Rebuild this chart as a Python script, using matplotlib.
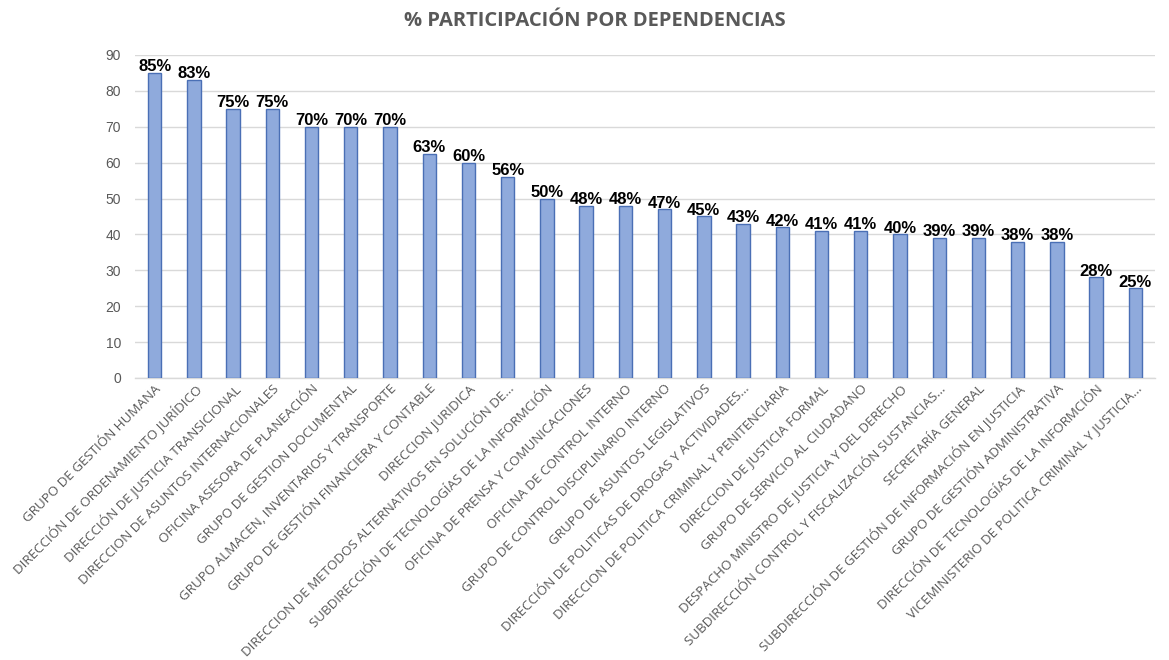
import matplotlib
matplotlib.use("Agg")
import matplotlib.pyplot as plt

categories = [
    "GRUPO DE GESTIÓN HUMANA",
    "DIRECCIÓN DE ORDENAMIENTO JURÍDICO",
    "DIRECCIÓN DE JUSTICIA TRANSICIONAL",
    "DIRECCION DE ASUNTOS INTERNACIONALES",
    "OFICINA ASESORA DE PLANEACIÓN",
    "GRUPO DE GESTION DOCUMENTAL",
    "GRUPO ALMACEN, INVENTARIOS Y TRANSPORTE",
    "GRUPO DE GESTIÓN FINANCIERA Y CONTABLE",
    "DIRECCION JURIDICA",
    "DIRECCION DE METODOS ALTERNATIVOS EN SOLUCIÓN DE...",
    "SUBDIRECCIÓN DE TECNOLOGÍAS DE LA INFORMCIÓN",
    "OFICINA DE PRENSA Y COMUNICACIONES",
    "OFICINA DE CONTROL INTERNO",
    "GRUPO DE CONTROL DISCIPLINARIO INTERNO",
    "GRUPO DE ASUNTOS LEGISLATIVOS",
    "DIRECCIÓN DE POLITICAS DE DROGAS Y ACTIVIDADES...",
    "DIRECCION DE POLITICA CRIMINAL Y PENITENCIARIA",
    "DIRECCION DE JUSTICIA FORMAL",
    "GRUPO DE SERVICIO AL CIUDADANO",
    "DESPACHO MINISTRO DE JUSTICIA Y DEL DERECHO",
    "SUBDIRECCIÓN CONTROL Y FISCALIZACIÓN SUSTANCIAS...",
    "SECRETARÍA GENERAL",
    "SUBDIRECCIÓN DE GESTIÓN DE INFORMACIÓN EN JUSTICIA",
    "GRUPO DE GESTIÓN ADMINISTRATIVA",
    "DIRECCIÓN DE TECNOLOGÍAS DE LA INFORMCIÓN",
    "VICEMINISTERIO DE POLITICA CRIMINAL Y JUSTICIA...",
]
values = [85, 83, 75, 75, 70, 70, 70, 62.5, 60, 56, 50, 48, 48, 47, 45, 43, 42, 41, 41, 40, 39, 39, 38, 38, 28, 25]
value_labels = ["85%", "83%", "75%", "75%", "70%", "70%", "70%", "63%", "60%", "56%", "50%", "48%", "48%",
                "47%", "45%", "43%", "42%", "41%", "41%", "40%", "39%", "39%", "38%", "38%", "28%", "25%"]
yticks = [0, 10, 20, 30, 40, 50, 60, 70, 80, 90]

fig = plt.figure(figsize=(11.69, 6.6), dpi=100)
ax = fig.add_axes([0.1155, 0.4273, 0.8725, 0.4894])

x = list(range(len(categories)))
ax.bar(x, values, width=0.34, color="#8FAADC", edgecolor="#4A6FB5", linewidth=1.0, zorder=3)

for xi, v, lab in zip(x, values, value_labels):
    ax.annotate(lab, (xi, v), xytext=(0, -1), textcoords="offset points",
                ha="center", va="bottom", fontsize=12, fontweight="bold",
                family="Liberation Sans", color="black", zorder=4)

ax.set_xlim(-0.5, len(categories) - 0.5)
ax.set_ylim(0, 90)
ax.set_yticks(yticks)
ax.tick_params(axis="y", length=0, labelsize=10, labelcolor="#595959", pad=10)
ax.tick_params(axis="x", length=0, pad=3)
ax.set_xticks(x)
ax.set_xticklabels(categories, rotation=45, ha="right", rotation_mode="anchor",
                   fontsize=9.6, color="#595959", family="Open Sans")
for lab in ax.get_yticklabels():
    lab.set_family("Liberation Sans")

ax.grid(axis="y", color="#D9D9D9", linewidth=1.0, zorder=0)
for s in ["top", "right", "left"]:
    ax.spines[s].set_visible(False)
ax.spines["bottom"].set_color("#D9D9D9")
ax.spines["bottom"].set_linewidth(1.0)

fig.text(0.509, 0.968, "% PARTICIPACIÓN POR DEPENDENCIAS", ha="center", va="center",
         fontsize=14.5, fontweight="bold", color="#595959", family="Open Sans")

fig.savefig("out.png", dpi=100)
